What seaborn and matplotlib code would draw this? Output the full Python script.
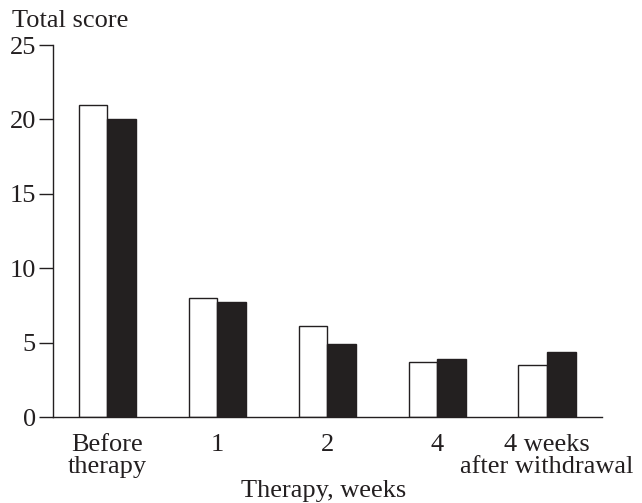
import matplotlib
matplotlib.use("Agg")
import matplotlib.pyplot as plt
import seaborn as sns
import pandas as pd

categories = ["Before\ntherapy", "1", "2", "4", "4 weeks\nafter withdrawal"]
group_names = ["Group A", "Group B"]
values_a = [21.0, 8.0, 6.1, 3.7, 3.5]
values_b = [20.0, 7.7, 4.9, 3.9, 4.4]
y_ticks = [0, 5, 10, 15, 20, 25]

df = pd.DataFrame({
    "time": categories * 2,
    "score": values_a + values_b,
    "group": [group_names[0]] * len(categories) + [group_names[1]] * len(categories),
})

sns.set_style("ticks")
plt.rcParams["font.family"] = ["Liberation Serif", "DejaVu Serif"]
plt.rcParams["font.size"] = 19
ink = "#231f20"
FS = 19

fig = plt.figure(figsize=(6.42, 5.03), dpi=100)
ax = fig.add_axes([52.5 / 642, 86 / 503, (602 - 52.5) / 642, (417 - 45) / 503])

sns.barplot(data=df, x="time", y="score", hue="group", order=categories,
            hue_order=group_names, palette=["white", ink], edgecolor=ink,
            linewidth=1.0, width=0.52, gap=0, ax=ax, legend=False, errorbar=None)

ax.set_xlim(-0.5, 4.5)
ax.set_ylim(0, 25)
ax.set_yticks(y_ticks)
ax.set_yticklabels([str(t) for t in y_ticks], color=ink, fontsize=FS)
ax.tick_params(axis="y", direction="out", length=10, width=1.0, color=ink, pad=2)
ax.tick_params(axis="x", length=0, pad=12, labelsize=FS, labelcolor=ink)
for lab in ax.get_xticklabels():
    lab.set_linespacing(1.0)
for s in ["top", "right"]:
    ax.spines[s].set_visible(False)
for s in ["left", "bottom"]:
    ax.spines[s].set_color(ink)
    ax.spines[s].set_linewidth(1.0)

ax.set_ylabel("")
ax.set_xlabel("")
fig.text(324 / 642, 1 - 497 / 503, "Therapy, weeks", fontsize=FS, color=ink,
         ha="center", va="baseline")
fig.text(12 / 642, 1 - 27 / 503, "Total score", fontsize=FS, color=ink,
         ha="left", va="baseline")

fig.savefig("out.png", dpi=100)
